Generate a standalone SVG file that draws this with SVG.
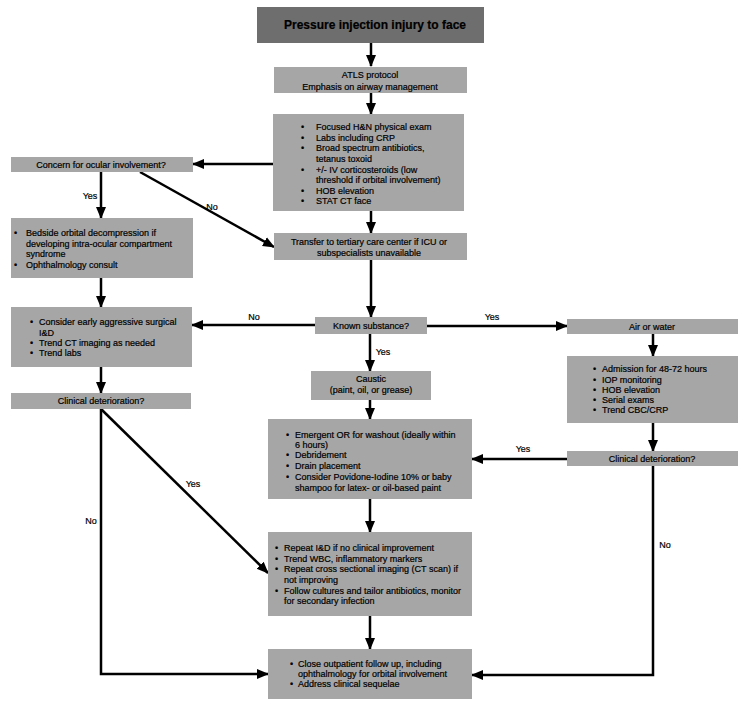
<svg xmlns="http://www.w3.org/2000/svg" width="750" height="707" viewBox="0 0 750 707">
<defs>
<marker id="ah" markerUnits="userSpaceOnUse" markerWidth="12" markerHeight="12" viewBox="0 0 12 12" refX="11" refY="6" orient="auto">
<path d="M0,1 L12,6 L0,11 Z" fill="#000"/>
</marker>
<style>
.box{fill:#a6a6a6;}
.title{fill:#6e6e6e;}
text{font-family:"Liberation Sans",Arial,sans-serif;font-size:9px;fill:#000;stroke:#000;stroke-width:0.2px;}
.c{text-anchor:middle;}
.t{font-size:12px;font-weight:bold;}
.cn{fill:none;stroke:#000;stroke-width:2.5;}
.ar{marker-end:url(#ah);}
</style>
</defs>
<rect width="750" height="707" fill="#fff"/>

<g id="connectors">
<line class="cn ar" x1="371" y1="43" x2="371" y2="66"/>
<line class="cn ar" x1="371" y1="93" x2="371" y2="114"/>
<line class="cn ar" x1="273" y1="164" x2="193" y2="164"/>
<line class="cn ar" x1="101" y1="172" x2="101" y2="218"/>
<line class="cn ar" x1="140" y1="172" x2="274" y2="247"/>
<line class="cn ar" x1="371" y1="211" x2="371" y2="233"/>
<line class="cn ar" x1="371" y1="260" x2="371" y2="317"/>
<line class="cn ar" x1="101" y1="278" x2="101" y2="307"/>
<line class="cn ar" x1="315" y1="325" x2="192" y2="325"/>
<line class="cn ar" x1="101" y1="367" x2="101" y2="393"/>
<line class="cn ar" x1="427" y1="326" x2="567" y2="326"/>
<line class="cn ar" x1="653" y1="334" x2="653" y2="356"/>
<line class="cn ar" x1="653" y1="423" x2="653" y2="451"/>
<line class="cn ar" x1="567" y1="459" x2="472" y2="459"/>
<line class="cn ar" x1="370" y1="334" x2="370" y2="371"/>
<line class="cn ar" x1="370" y1="400" x2="370" y2="419"/>
<line class="cn ar" x1="370" y1="499" x2="370" y2="532"/>
<line class="cn ar" x1="370" y1="616" x2="370" y2="649"/>
<line class="cn ar" x1="101" y1="409" x2="268" y2="573"/>
<polyline class="cn ar" points="101,409 101,674 268,674"/>
<polyline class="cn ar" points="653,466 653,675 472,675"/>
<text x="90" y="199" class="c">Yes</text>
<text x="212" y="210" class="c">No</text>
<text x="254" y="320" class="c">No</text>
<text x="492" y="320" class="c">Yes</text>
<text x="383" y="355" class="c">Yes</text>
<text x="523" y="452" class="c">Yes</text>
<text x="193" y="487" class="c">Yes</text>
<text x="91" y="524" class="c">No</text>
<text x="665" y="548" class="c">No</text>
</g>

<g id="n-title">
<rect class="title" x="257" y="7" width="227" height="36"/>
<text x="375" y="29" class="c t">Pressure injection injury to face</text>
</g>

<g id="n-atls">
<rect class="box" x="274" y="67" width="193" height="26"/>
<text x="370" y="78" class="c">ATLS protocol</text>
<text x="370" y="90" class="c">Emphasis on airway management</text>
</g>

<g id="n-initial">
<rect class="box" x="273" y="114" width="191" height="97"/>
<text x="301" y="130">•</text><text x="316" y="130">Focused H&amp;N physical exam</text>
<text x="301" y="140.5">•</text><text x="316" y="140.5">Labs including CRP</text>
<text x="301" y="151">•</text><text x="316" y="151">Broad spectrum antibiotics,</text>
<text x="316" y="161.5">tetanus toxoid</text>
<text x="301" y="172.5">•</text><text x="316" y="172.5">+/- IV corticosteroids (low</text>
<text x="316" y="183">threshold if orbital involvement)</text>
<text x="301" y="193.5">•</text><text x="316" y="193.5">HOB elevation</text>
<text x="301" y="204">•</text><text x="316" y="204">STAT CT face</text>
</g>

<g id="n-concern">
<rect class="box" x="11" y="157" width="182" height="15"/>
<text x="101" y="167.5" class="c">Concern for ocular involvement?</text>
</g>

<g id="n-bedside">
<rect class="box" x="11" y="218" width="182" height="60"/>
<text x="14" y="236">•</text><text x="26" y="236">Bedside orbital decompression if</text>
<text x="26" y="246.5">developing intra-ocular compartment</text>
<text x="26" y="257">syndrome</text>
<text x="14" y="267.5">•</text><text x="26" y="267.5">Ophthalmology consult</text>
</g>

<g id="n-transfer">
<rect class="box" x="274" y="233" width="193" height="27"/>
<text x="369" y="245" class="c">Transfer to tertiary care center if ICU or</text>
<text x="369" y="256" class="c">subspecialists unavailable</text>
</g>

<g id="n-consider">
<rect class="box" x="11" y="307" width="181" height="60"/>
<text x="30" y="325">•</text><text x="39" y="325">Consider early aggressive surgical</text>
<text x="39" y="335.5">I&amp;D</text>
<text x="30" y="345.5">•</text><text x="39" y="345.5">Trend CT imaging as needed</text>
<text x="30" y="356">•</text><text x="39" y="356">Trend labs</text>
</g>

<g id="n-clinical-left">
<rect class="box" x="11" y="393" width="180" height="16"/>
<text x="101" y="404" class="c">Clinical deterioration?</text>
</g>

<g id="n-known">
<rect class="box" x="315" y="317" width="112" height="17"/>
<text x="371" y="329" class="c">Known substance?</text>
</g>

<g id="n-caustic">
<rect class="box" x="311" y="371" width="120" height="29"/>
<text x="371" y="382" class="c">Caustic</text>
<text x="371" y="393" class="c">(paint, oil, or grease)</text>
</g>

<g id="n-air">
<rect class="box" x="567" y="319" width="171" height="15"/>
<text x="652" y="329.5" class="c">Air or water</text>
</g>

<g id="n-admission">
<rect class="box" x="567" y="356" width="171" height="67"/>
<text x="593" y="372">•</text><text x="602" y="372">Admission for 48-72 hours</text>
<text x="593" y="382.5">•</text><text x="602" y="382.5">IOP monitoring</text>
<text x="593" y="392.5">•</text><text x="602" y="392.5">HOB elevation</text>
<text x="593" y="402.5">•</text><text x="602" y="402.5">Serial exams</text>
<text x="593" y="413">•</text><text x="602" y="413">Trend CBC/CRP</text>
</g>

<g id="n-clinical-right">
<rect class="box" x="567" y="451" width="171" height="15"/>
<text x="652" y="461.5" class="c">Clinical deterioration?</text>
</g>

<g id="n-emergent">
<rect class="box" x="268" y="419" width="204" height="80"/>
<text x="286" y="438">•</text><text x="295" y="438">Emergent OR for washout (ideally within</text>
<text x="295" y="448">6 hours)</text>
<text x="286" y="458">•</text><text x="295" y="458">Debridement</text>
<text x="286" y="469">•</text><text x="295" y="469">Drain placement</text>
<text x="286" y="480">•</text><text x="295" y="480">Consider Povidone-Iodine 10% or baby</text>
<text x="295" y="491">shampoo for latex- or oil-based paint</text>
</g>

<g id="n-repeat">
<rect class="box" x="268" y="532" width="204" height="84"/>
<text x="275" y="551">•</text><text x="284" y="551">Repeat I&amp;D if no clinical improvement</text>
<text x="275" y="562">•</text><text x="284" y="562">Trend WBC, inflammatory markers</text>
<text x="275" y="572">•</text><text x="284" y="572">Repeat cross sectional imaging (CT scan) if</text>
<text x="284" y="583">not improving</text>
<text x="275" y="594">•</text><text x="284" y="594">Follow cultures and tailor antibiotics, monitor</text>
<text x="284" y="604">for secondary infection</text>
</g>

<g id="n-close">
<rect class="box" x="268" y="649" width="204" height="50"/>
<text x="290" y="667">•</text><text x="298" y="667">Close outpatient follow up, including</text>
<text x="298" y="677">ophthalmology for orbital involvement</text>
<text x="290" y="687">•</text><text x="298" y="687">Address clinical sequelae</text>
</g>
</svg>
